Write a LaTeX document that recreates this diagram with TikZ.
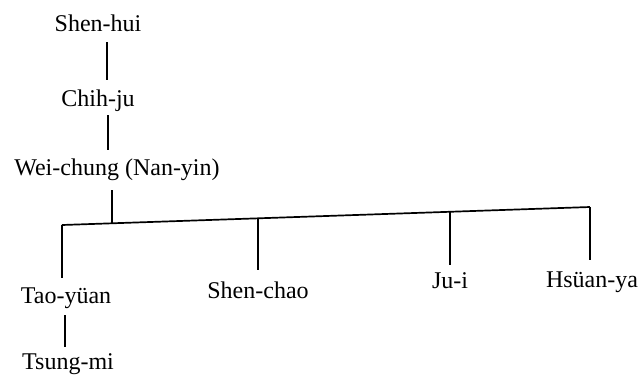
\documentclass[tikz,border=0pt]{standalone}
\usepackage{fontspec}
\setmainfont{Liberation Serif}
\begin{document}
\begin{tikzpicture}[x=1pt,y=-1pt,
  lbl/.style={font=\fontsize{24}{28}\selectfont, inner sep=0pt, anchor=base, text height=16pt, text depth=5pt},
  conn/.style={line width=1.7pt, line cap=butt, line join=miter}]
\useasboundingbox (0,0) rectangle (640,376);
% nodes
\node[lbl] (shenhui) at (98,31) {Shen-hui};
\node[lbl] (chihju) at (98,106) {Chih-ju};
\node[lbl] (wei) at (117,175) {Wei-chung (Nan-yin)};
\node[lbl] (tao) at (66,303) {Tao-yüan};
\node[lbl] (shenchao) at (258,298) {Shen-chao};
\node[lbl] (jui) at (450,288) {Ju-i};
\node[lbl] (hsuan) at (592,287) {Hsüan-ya};
\node[lbl] (tsung) at (68,369.5) {Tsung-mi};
% bar coordinates
\coordinate (barL) at (62,225);
\coordinate (barR) at (590,207);
\coordinate (j0) at (112,223.3);
\coordinate (j1) at (258,218.3);
\coordinate (j2) at (450,211.8);
% connectors
\draw[conn, shorten <=6pt, shorten >=10pt] ([xshift=9pt]shenhui.south) -- ([xshift=9pt]chihju.north);
\draw[conn, shorten <=4pt, shorten >=9pt] ([xshift=10pt]chihju.south) -- ([xshift=-9pt]wei.north);
\draw[conn, shorten <=10pt] ([xshift=-5pt]wei.south) -- (j0);
\draw[conn] (barL) -- (barR);
\draw[conn, shorten >=9pt] (barL) -- ([xshift=-4pt]tao.north);
\draw[conn, shorten >=12pt] (j1) -- (shenchao.north);
\draw[conn, shorten >=7pt] (j2) -- (jui.north);
\draw[conn, shorten >=11pt] (barR) -- ([xshift=-2pt]hsuan.north);
\draw[conn, shorten <=7pt, shorten >=6pt] ([xshift=-1pt]tao.south) -- ([xshift=-3pt]tsung.north);
\end{tikzpicture}
\end{document}
